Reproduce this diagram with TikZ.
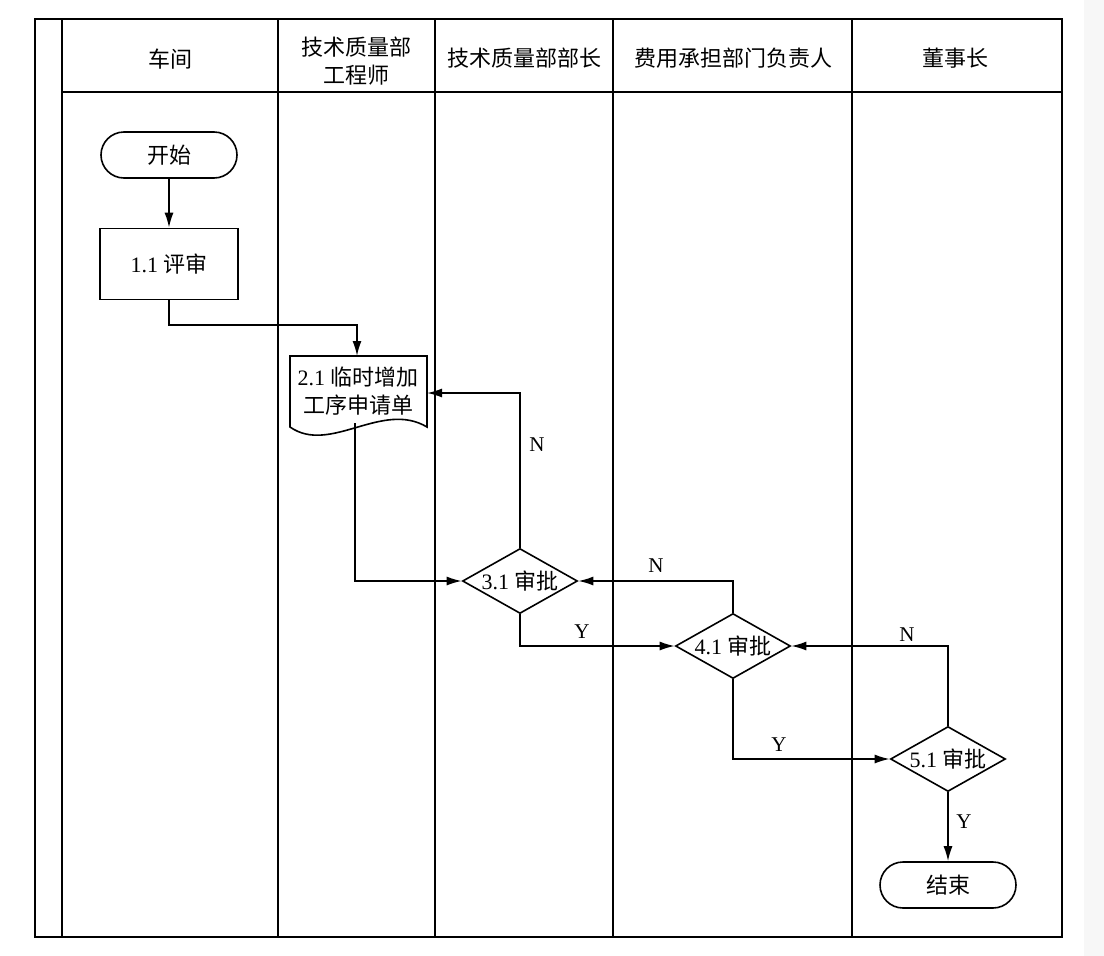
\documentclass[tikz,border=0pt]{standalone}
\usepackage{fontspec}
\setmainfont{Liberation Serif}
\newfontfamily\cjk{Noto Sans CJK SC}
\usetikzlibrary{arrows.meta,shapes.geometric,shapes.misc}
\begin{document}
\begin{tikzpicture}[x=1pt,y=-1pt,
  every node/.style={font=\fontsize{22}{28}\selectfont, inner sep=0pt},
  frame/.style={line width=2.1pt},
  lane/.style={line width=1.6pt},
  shp/.style={draw, line width=1.6pt},
  term/.style={shp, rounded rectangle, minimum width=136pt, minimum height=46pt},
  proc/.style={shp, rectangle, minimum width=138pt, minimum height=71pt},
  dia/.style={shp, diamond, minimum width=115pt, minimum height=65pt},
  arr/.style={-{Latex[length=15pt,width=9pt]}, line width=1.6pt},
  lbl/.style={font=\fontsize{21}{25}\selectfont}]
\useasboundingbox (0,0) rectangle (1104,956);
\fill[black!3] (1084,0) rectangle (1104,956);
% frame and lanes
\draw[frame] (35,19) rectangle (1062,937);
\draw[lane] (62,19) -- (62,937);
\draw[lane] (278,19) -- (278,937);
\draw[lane] (435,19) -- (435,937);
\draw[lane] (613,19) -- (613,937);
\draw[lane] (852,19) -- (852,937);
\draw[lane] (62,92) -- (1062,92);
% headers
\node (h1) at (170,59) {\cjk 车间};
\node[align=center] (h2) at (356,61) {\cjk 技术质量部\\\cjk 工程师};
\node (h3) at (524,58) {\cjk 技术质量部部长};
\node (h4) at (733,58) {\cjk 费用承担部门负责人};
\node (h5) at (955,58) {\cjk 董事长};
% nodes
\node[term] (start) at (169,155) {\cjk 开始};
\node[proc] (r11) at (169,264) {1.1 {\cjk 评审}};
\draw[shp] (290,356) -- (427,356) -- (427,427) .. controls (382,400) and (330,455) .. (290,427) -- cycle;
\node[align=center] (doc) at (358,391) {2.1 {\cjk 临时增加}\\{\cjk 工序申请单}};
\coordinate (doctop) at (357,356);
\coordinate (docR) at (427,393);
\coordinate (docout) at (355,423);
\coordinate (k1) at (357,325);
\node[dia, label={center:{3.1 {\cjk 审批}}}] (d31) at (520,581) {};
\node[dia, label={center:{4.1 {\cjk 审批}}}] (d41) at (733,646) {};
\node[dia, label={center:{5.1 {\cjk 审批}}}] (d51) at (948,759) {};
\node[term] (end) at (948,885) {\cjk 结束};
% connectors
\draw[arr] (start) -- (r11);
\draw[arr] (r11.south) |- (k1) -- (doctop);
\draw[arr] (d31.north) |- (docR);
\draw[arr] (docout) |- (d31.west);
\draw[arr] (d31.south) |- (d41.west);
\draw[arr] (d41.north) |- (d31.east);
\draw[arr] (d41.south) |- (d51.west);
\draw[arr] (d51.north) |- (d41.east);
\draw[arr] (d51) -- (end);
% labels
\node[lbl] (n1) at (537,445) {N};
\node[lbl] (n2) at (656,566) {N};
\node[lbl] (y1) at (582,632) {Y};
\node[lbl] (n3) at (907,635) {N};
\node[lbl] (y2) at (779,745) {Y};
\node[lbl] (y3) at (964,822) {Y};
\end{tikzpicture}
\end{document}
